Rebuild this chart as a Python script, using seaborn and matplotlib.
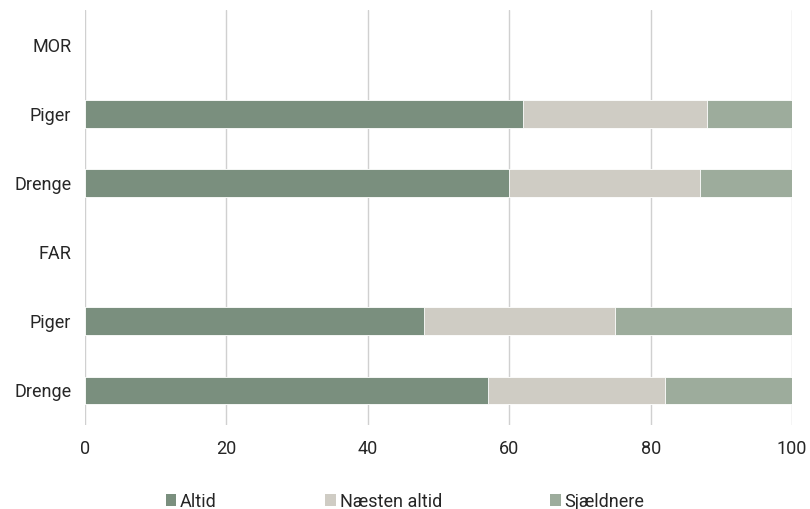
import seaborn as sns
from matplotlib import pyplot as plt
from matplotlib.patches import Patch
import pandas as pd
import numpy as np

rows = ["MOR", "Piger", "Drenge", "FAR", "Piger", "Drenge"]
altid = [np.nan, 62, 60, np.nan, 48, 57]
naesten = [np.nan, 26, 27, np.nan, 27, 25]
sjaeldnere = [np.nan, 12, 13, np.nan, 25, 18]

series = ["Altid", "Næsten altid", "Sjældnere"]
colors = ["#7a8f7e", "#cfccc4", "#9dac9c"]

sns.set_theme(style="white")
plt.rcParams["font.family"] = ["Roboto", "DejaVu Sans"]

df = pd.DataFrame({"row": [f"{i}_{r}" for i, r in enumerate(rows)],
                   "Altid": altid, "Næsten altid": naesten, "Sjældnere": sjaeldnere})
cum = df[series].cumsum(axis=1)

fig, ax = plt.subplots(figsize=(8.1, 5.09), dpi=100)
fig.subplots_adjust(left=0.105, right=0.978, top=0.98, bottom=0.165)

# stacked bars: draw the running totals from the outside in
for name, col in reversed(list(zip(series, colors))):
    sns.barplot(x=cum[name], y=df["row"], orient="h", color=col, width=0.4,
                edgecolor="white", linewidth=0.6, ax=ax, saturation=1)

ax.set_xlim(0, 100)
ax.set_xticks([0, 20, 40, 60, 80, 100])
ax.set_yticks(range(len(rows)))
ax.set_yticklabels(rows)
ax.set_xlabel("")
ax.set_ylabel("")
ax.xaxis.grid(True, color="#d0d0d0", linewidth=1)
ax.set_axisbelow(True)
sns.despine(left=True, bottom=True)
ax.tick_params(axis="both", length=0, labelsize=13, colors="#262626")
ax.tick_params(axis="x", pad=11)
ax.tick_params(axis="y", pad=10)

handles = [Patch(facecolor=c, edgecolor="none") for c in colors]
fig.legend(handles, series, loc="lower center", bbox_to_anchor=(0.5, -0.035), ncol=3,
           frameon=False, fontsize=13, handlelength=0.6, handleheight=0.6,
           handletextpad=0.2, columnspacing=6, labelcolor="#262626")

fig.savefig("out.png", dpi=100)
